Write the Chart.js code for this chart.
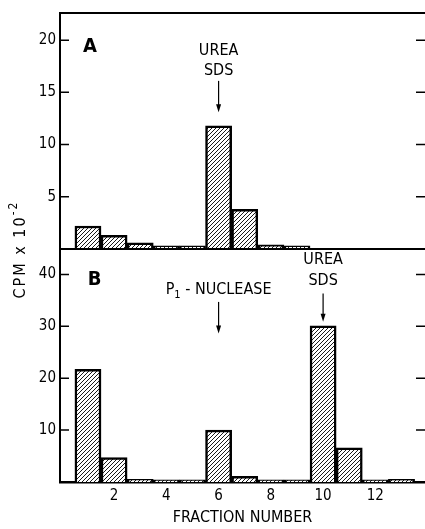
<!DOCTYPE html>
<html>
<head>
<meta charset="utf-8">
<script src="https://cdn.jsdelivr.net/npm/chart.js@4.4.0/dist/chart.umd.min.js"></script>
<style>
  html, body { margin: 0; padding: 0; background: #fff; }
  #wrap { width: 425px; height: 529px; }
</style>
</head>
<body>
<div id="wrap"><canvas id="fractions" width="425" height="529"></canvas></div>
<script>
// fraction numbers and counts (CPM x 10^-2)
const fractions = [1, 2, 3, 4, 5, 6, 7, 8, 9, 10, 11, 12, 13];
const cpmA = [2.2, 1.3, 0.6, 0.3, 0.3, 11.8, 3.8, 0.4, 0.3];
const cpmB = [21.7, 4.7, 0.5, 0.4, 0.4, 10.0, 1.1, 0.4, 0.4, 30.1, 6.6, 0.4, 0.5];
const xTicks = [2, 4, 6, 8, 10, 12];
const yTicksA = [5, 10, 15, 20];
const yTicksB = [10, 20, 30, 40];

const FONT = "'DejaVu Sans Condensed', 'Liberation Sans Narrow', 'DejaVu Sans', sans-serif";

function hatch() {
  const c = document.createElement("canvas");
  c.width = 4;
  c.height = 4;
  const g = c.getContext("2d");
  g.fillStyle = "#fff";
  g.fillRect(0, 0, 4, 4);
  g.strokeStyle = "#000";
  g.lineWidth = 0.9;
  g.beginPath();
  g.moveTo(0, 4); g.lineTo(4, 0);
  g.moveTo(-1, 1); g.lineTo(1, -1);
  g.moveTo(3, 5); g.lineTo(5, 3);
  g.stroke();
  return g.createPattern(c, "repeat");
}

function points(values) {
  return values.map((v, i) => ({ x: fractions[i], y: v }));
}

const barStyle = {
  backgroundColor: hatch(),
  borderColor: "#000",
  borderWidth: 2.5,
  barPercentage: 1,
  categoryPercentage: 1,
  grouped: false,
};

function setTicks(list) {
  return function (scale) {
    scale.ticks = list.map((v) => ({ value: v }));
  };
}

const yAxis = (ticks, max, weight) => ({
  type: "linear",
  position: "left",
  stack: "cpm",
  stackWeight: weight,
  min: 0,
  max: max,
  grid: { display: false, drawTicks: false },
  border: { display: true, color: "#000", width: 2 },
  ticks: { color: "#000", padding: 4, font: { family: FONT, size: 15 } },
  afterBuildTicks: setTicks(ticks),
  afterFit: (s) => { s.width = 60; },
});

// frame lines, inward ticks, labels and arrows
const extras = {
  id: "extras",
  afterDraw(chart) {
    const ctx = chart.ctx;
    const area = chart.chartArea;
    const x = chart.scales.x;
    const yA = chart.scales.yA;
    const yB = chart.scales.yB;
    ctx.save();
    ctx.strokeStyle = "#000";
    ctx.fillStyle = "#000";

    ctx.lineWidth = 2;
    ctx.beginPath();
    ctx.moveTo(area.left, area.top);
    ctx.lineTo(area.right, area.top);
    ctx.moveTo(area.left, yA.getPixelForValue(0));
    ctx.lineTo(area.right, yA.getPixelForValue(0));
    ctx.stroke();

    ctx.lineWidth = 1.5;
    ctx.beginPath();
    [[yA, yTicksA], [yB, yTicksB]].forEach(([s, list]) => {
      list.forEach((v) => {
        const py = s.getPixelForValue(v);
        ctx.moveTo(area.left, py); ctx.lineTo(area.left + 9, py);
        ctx.moveTo(area.right - 9, py); ctx.lineTo(area.right, py);
      });
    });
    ctx.stroke();

    function label(s, fx, scale, fy, font) {
      ctx.font = font;
      ctx.textAlign = "center";
      ctx.textBaseline = "middle";
      ctx.fillText(s, x.getPixelForValue(fx), scale.getPixelForValue(fy));
    }
    function arrow(fx, scale, from, to) {
      const px = x.getPixelForValue(fx);
      const y1 = scale.getPixelForValue(from);
      const y2 = scale.getPixelForValue(to);
      ctx.lineWidth = 1.2;
      ctx.beginPath();
      ctx.moveTo(px, y1); ctx.lineTo(px, y2 - 6);
      ctx.stroke();
      ctx.beginPath();
      ctx.moveTo(px - 2.5, y2 - 8); ctx.lineTo(px + 2.5, y2 - 8); ctx.lineTo(px, y2);
      ctx.closePath();
      ctx.fill();
    }
    const bold = "bold 20px " + FONT;
    const small = "16px " + FONT;

    label("A", 1.08, yA, 19.4, bold);
    label("UREA", 6, yA, 19.0, small);
    label("SDS", 6, yA, 17.1, small);
    arrow(6, yA, 16.1, 13.1);

    label("B", 1.25, yB, 38.9, bold);
    label("UREA", 10, yB, 42.8, small);
    label("SDS", 10, yB, 38.8, small);
    arrow(10, yB, 36.3, 30.9);

    // P1 - NUCLEASE with subscript
    ctx.font = small;
    const rest = " - NUCLEASE";
    const wP = ctx.measureText("P").width;
    const wR = ctx.measureText(rest).width;
    ctx.font = "11px " + FONT;
    const wS = ctx.measureText("1").width;
    const cx = x.getPixelForValue(6);
    const cy = yB.getPixelForValue(37.0);
    let left = cx - (wP + wS + wR) / 2;
    ctx.textAlign = "left";
    ctx.textBaseline = "middle";
    ctx.font = small;
    ctx.fillText("P", left, cy);
    ctx.font = "11px " + FONT;
    ctx.fillText("1", left + wP, cy + 5);
    ctx.font = small;
    ctx.fillText(rest, left + wP + wS, cy);
    arrow(6, yB, 34.7, 28.6);

    // y title, rotated
    ctx.translate(21, (yA.top + yB.bottom) / 2 + 2);
    ctx.rotate(-Math.PI / 2);
    ctx.letterSpacing = "2px";
    ctx.font = "16px " + FONT;
    const main = "CPM x 10";
    const wM = ctx.measureText(main).width;
    ctx.font = "12px " + FONT;
    const wE = ctx.measureText("-2").width;
    const start = -(wM + wE) / 2;
    ctx.font = "16px " + FONT;
    ctx.fillText(main, start, 0);
    ctx.font = "12px " + FONT;
    ctx.fillText("-2", start + wM, -7);
    ctx.restore();
  },
};

const ctx = document.getElementById("fractions").getContext("2d");
const fractionChart = new Chart(ctx, {
  type: "bar",
  data: {
    datasets: [
      Object.assign({ label: "A", data: points(cpmA), yAxisID: "yA" }, barStyle),
      Object.assign({ label: "B", data: points(cpmB), yAxisID: "yB" }, barStyle),
    ],
  },
  options: {
    responsive: false,
    animation: false,
    devicePixelRatio: 1,
    layout: { padding: { top: 9, right: 0, bottom: 0, left: 0 } },
    plugins: { legend: { display: false }, tooltip: { enabled: false } },
    scales: {
      x: {
        type: "linear",
        offset: false,
        min: -0.07,
        max: 13.9,
        grid: { display: false, drawTicks: false, offset: false },
        border: { display: true, color: "#000", width: 2.5 },
        ticks: { color: "#000", padding: 5, font: { family: FONT, size: 15 } },
        title: {
          display: true,
          text: "FRACTION NUMBER",
          color: "#000",
          font: { family: FONT, size: 16 },
          padding: { top: 0, bottom: 2 },
        },
        afterBuildTicks: setTicks(xTicks),
        afterFit: (s) => { s.height = 47; },
      },
      yB: yAxis(yTicksB, 44.9, 235),
      yA: yAxis(yTicksA, 22.6, 238),
    },
  },
  plugins: [extras],
});
</script>
</body>
</html>
